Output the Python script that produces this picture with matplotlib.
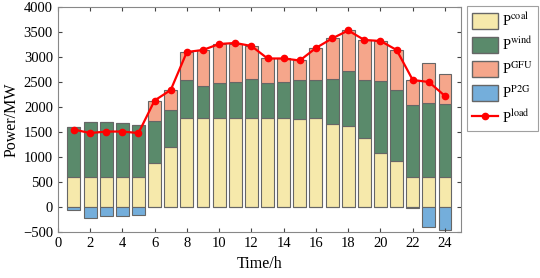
import numpy as np
import matplotlib
matplotlib.use("Agg")
import matplotlib.pyplot as plt
from matplotlib.patches import Patch
from matplotlib.lines import Line2D

hours = np.arange(1, 25)
p_coal = [600, 600, 600, 600, 600, 880, 1200, 1790, 1790, 1790, 1790, 1790,
          1790, 1790, 1770, 1790, 1670, 1630, 1390, 1080, 920, 600, 600, 600]
p_wind = [1000, 1100, 1100, 1090, 1050, 850, 740, 760, 640, 690, 710, 770,
          690, 710, 770, 750, 900, 1090, 1150, 1440, 1420, 1440, 1480, 1460]
p_gfu = [0, 0, 0, 0, 0, 400, 410, 550, 710, 780, 760, 660,
         490, 470, 400, 640, 800, 810, 800, 800, 800, 500, 800, 600]
p_p2g = [-50, -220, -170, -170, -150, 0, 0, 0, 0, 0, 0, 0,
         0, 0, 0, 0, 0, 0, 0, 0, 0, -20, -390, -450]
p_load = [1550, 1480, 1510, 1510, 1480, 2130, 2340, 3100, 3140, 3260, 3280, 3220,
          2970, 2970, 2930, 3180, 3370, 3530, 3340, 3320, 3140, 2540, 2500, 2220]

c_coal = "#f6e9ab"
c_wind = "#5a8a6b"
c_gfu = "#f5a68b"
c_p2g = "#74aedb"
edge = "#666666"

plt.rcParams["font.family"] = ["Liberation Serif", "DejaVu Serif"]
plt.rcParams["mathtext.fontset"] = "stix"

fig = plt.figure(figsize=(5.4, 2.78), dpi=100)
ax = fig.add_axes([0.107, 0.165, 0.747, 0.81])

coal = np.array(p_coal)
wind = np.array(p_wind)
w = 0.8
kw = dict(width=w, edgecolor=edge, linewidth=0.8)
ax.bar(hours, coal, color=c_coal, **kw)
ax.bar(hours, wind, bottom=coal, color=c_wind, **kw)
ax.bar(hours, p_gfu, bottom=coal + wind, color=c_gfu, **kw)
ax.bar(hours, p_p2g, color=c_p2g, **kw)
ax.plot(hours, p_load, color="#ff0000", lw=1.6, marker="o", ms=4.5)

ax.set_xlim(0, 25)
ax.set_ylim(-500, 4000)
ax.set_xticks(np.arange(0, 25, 2))
ax.set_yticks(np.arange(-500, 4001, 500))
ax.tick_params(direction="in", top=True, right=True, labelsize=10.5,
               color="#444444", length=3)
for s in ax.spines.values():
    s.set_color("#888888")
ax.set_xlabel("Time/h", fontsize=11.5)
ax.set_ylabel("Power/MW", fontsize=11.5, labelpad=2)

handles = [Patch(facecolor=c_coal, edgecolor=edge),
           Patch(facecolor=c_wind, edgecolor=edge),
           Patch(facecolor=c_gfu, edgecolor=edge),
           Patch(facecolor=c_p2g, edgecolor=edge),
           Line2D([], [], color="#ff0000", lw=1.6, marker="o", ms=4.5)]
labels = [r"P$^{\rm coal}$", r"P$^{\rm wind}$", r"P$^{\rm GFU}$",
          r"P$^{\rm P2G}$", r"P$^{\rm load}$"]
leg = fig.legend(handles, labels, loc="upper left", bbox_to_anchor=(0.865, 0.978),
                 fontsize=10.5, frameon=True, fancybox=False, handlelength=1.8,
                 handleheight=1.3, borderpad=0.35, labelspacing=0.5,
                 handletextpad=0.25, borderaxespad=0)
leg.get_frame().set_edgecolor("#888888")
leg.get_frame().set_linewidth(0.8)

fig.savefig("out.png", dpi=100)
